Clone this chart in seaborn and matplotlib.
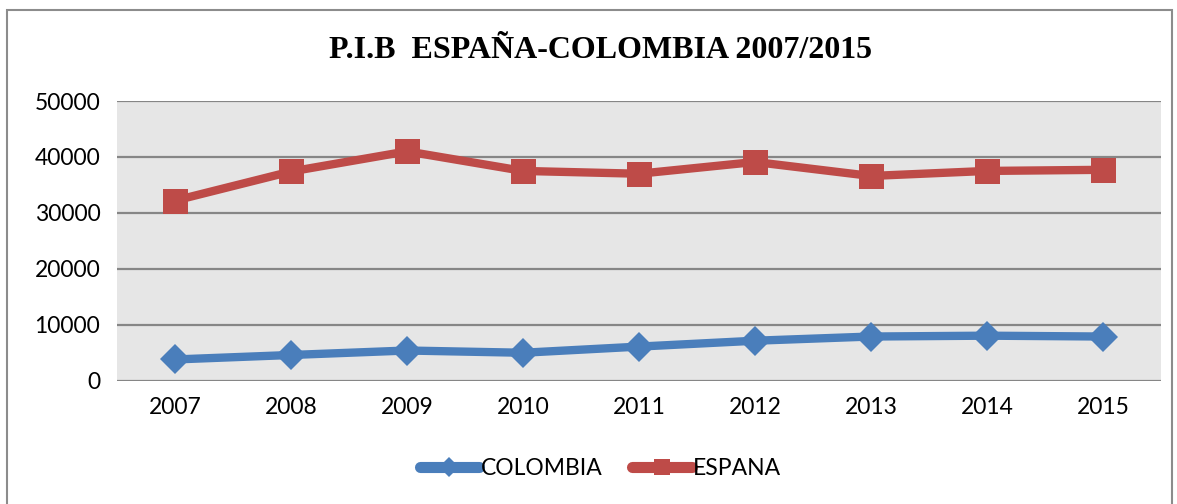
import pandas as pd
import matplotlib.pyplot as plt
import seaborn as sns
from matplotlib.patches import Rectangle

# Datos
years = [2007, 2008, 2009, 2010, 2011, 2012, 2013, 2014, 2015]
colombia = [3800, 4600, 5400, 5000, 6100, 7150, 7900, 8050, 7900]
espana = [32200, 37400, 41000, 37500, 37000, 39100, 36600, 37500, 37700]

df = pd.DataFrame({'year': years * 2,
                   'pib': colombia + espana,
                   'pais': ['COLOMBIA'] * len(years) + ['ESPANA'] * len(years)})

sns.set_style('white')
plt.rcParams['font.family'] = ['Lato', 'DejaVu Sans']
plt.rcParams['text.color'] = 'black'
plt.rcParams['xtick.color'] = 'black'
plt.rcParams['ytick.color'] = 'black'

fig = plt.figure(figsize=(11.77, 5.04), dpi=100)
ax = fig.add_axes([0.0994, 0.2446, 0.887, 0.555])
ax.set_facecolor('#e6e6e6')

sns.lineplot(data=df[df['pais'] == 'COLOMBIA'], x='year', y='pib', ax=ax,
             color='#4a7ebb', linewidth=6, marker='D', markersize=15,
             markeredgewidth=0, label='COLOMBIA')
sns.lineplot(data=df[df['pais'] == 'ESPANA'], x='year', y='pib', ax=ax,
             color='#be4b48', linewidth=6, marker='s', markersize=18,
             markeredgewidth=0, label='ESPANA')

ax.set_xlim(years[0] - 0.5, years[-1] + 0.5)
ax.set_ylim(0, 50000)
ax.set_xticks(years)
ax.set_yticks(range(0, 50001, 10000))
ax.tick_params(axis='both', labelsize=16.5, length=0)
ax.tick_params(axis='x', pad=12)
ax.tick_params(axis='y', pad=12)
ax.grid(axis='y', color='#868686', linewidth=1.6)
ax.set_axisbelow(True)
for s in ax.spines.values():
    s.set_visible(False)
ax.set_xlabel('')
ax.set_ylabel('')

fig.text(0.51, 0.9, 'P.I.B  ESPAÑA-COLOMBIA 2007/2015', ha='center', va='center',
         fontsize=23, fontweight='bold', family=['Liberation Serif', 'DejaVu Serif'])

leg = ax.legend(loc='center', bbox_to_anchor=(0.51, 0.07), bbox_transform=fig.transFigure,
                ncol=2, frameon=False, fontsize=16.5, handlelength=2.6, columnspacing=1.3,
                handletextpad=0.05, markerscale=0.65)
for ln in leg.get_lines():
    ln.set_linewidth(8)
    ln.set_solid_capstyle('round')

# borde exterior
fig.patches.append(Rectangle((0.006, -0.01), 0.99, 0.99, transform=fig.transFigure,
                             fill=False, edgecolor='#8c8c8c', linewidth=1.5))

plt.savefig('out.png', dpi=100)
